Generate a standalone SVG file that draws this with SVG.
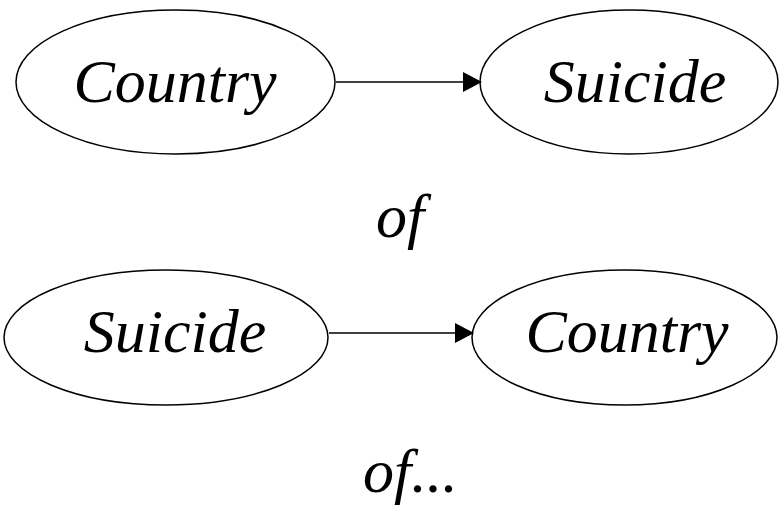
<svg xmlns="http://www.w3.org/2000/svg" width="779" height="505" viewBox="0 0 779 505">
<style>
.n ellipse{fill:#fff;stroke:#000;stroke-width:1.5}
text{font-family:"Liberation Serif","Times New Roman",serif;font-style:italic;font-size:62px;fill:#000}
.e{stroke:#000;stroke-width:1.5;fill:none}
</style>
<defs>
<marker id="ah" markerWidth="19" markerHeight="20" viewBox="0 0 19 20" refX="18" refY="10" orient="auto" markerUnits="userSpaceOnUse">
<path d="M0,0 L19,10 L0,20 Z" fill="#000"/>
</marker>
</defs>
<rect width="779" height="505" fill="#fff"/>
<g id="n1" class="n"><ellipse cx="175.5" cy="82" rx="159.5" ry="72"/><text x="175" y="102" text-anchor="middle">Country</text></g>
<g id="n2" class="n"><ellipse cx="629" cy="82" rx="149" ry="72"/><text x="635" y="102" text-anchor="middle">Suicide</text></g>
<g id="n3" class="n"><ellipse cx="166" cy="337.5" rx="162" ry="67.5"/><text x="175" y="352" text-anchor="middle">Suicide</text></g>
<g id="n4" class="n"><ellipse cx="624.5" cy="337.5" rx="152.5" ry="67.5"/><text x="627" y="352" text-anchor="middle">Country</text></g>
<g id="edges">
<line class="e" x1="336" y1="82" x2="481" y2="82" marker-end="url(#ah)"/>
<line class="e" x1="329" y1="333" x2="473" y2="333" marker-end="url(#ah)"/>
</g>
<text x="400" y="237" text-anchor="middle">of</text>
<text x="363" y="492">of...</text>
</svg>
